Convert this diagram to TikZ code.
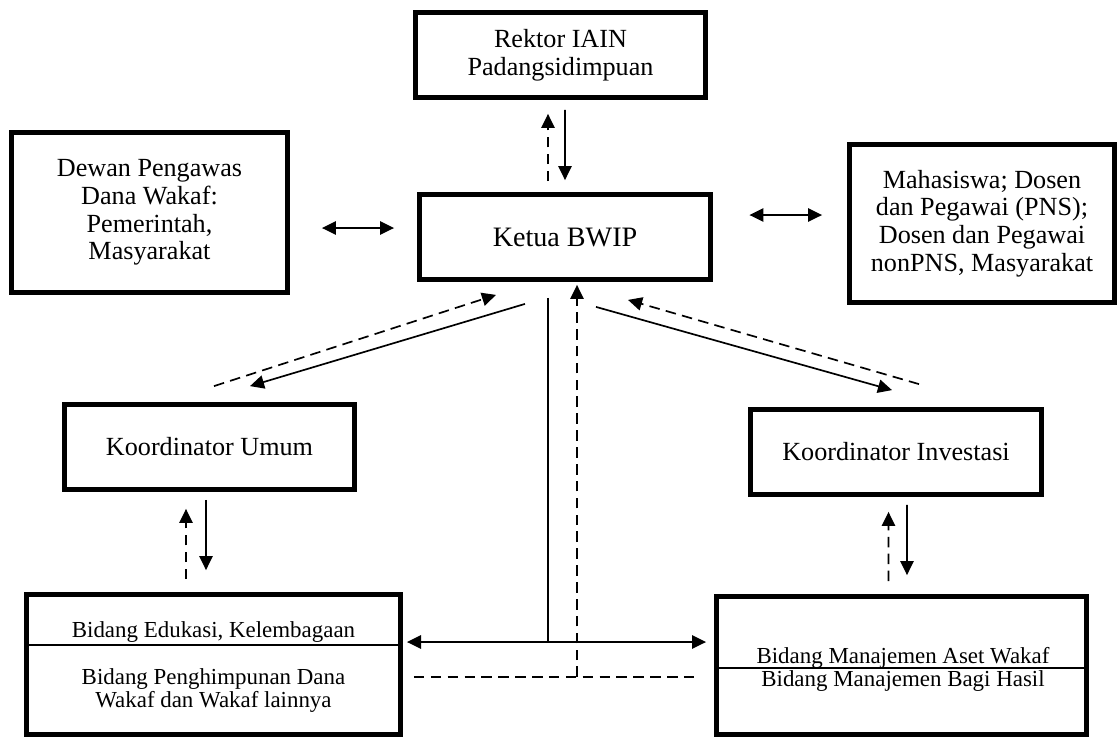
\documentclass[tikz,border=0pt]{standalone}
\usepackage{fontspec}
\setmainfont{Liberation Serif}
\usetikzlibrary{
  calc,
  arrows.meta}
\tikzset{
  %% unitbox : a unit of the organisation
  unitbox/.style={
    rectangle,
    draw=black,
    line width=3.4pt,
    minimum width=7.25cm,
    minimum height=2.125cm,
    align=center,
    font=\fontsize{18.6}{19.6}\selectfont
  },
  %% bidang : the lower boxes (text is put in separately)
  bidang/.style={
    unitbox,
    minimum width=9.35cm,
    minimum height=3.5cm
  },
  %% bidtext : text inside a bidang box
  bidtext/.style={
    align=center,
    inner sep=0pt,
    font=\fontsize{16.3}{17}\selectfont
  },
  %% divider : line between the parts of a bidang box
  divider/.style={line width=1pt},
  %% link : plain connection, no tip
  link/.style={line width=1.2pt},
  %% dashlink : dashed connection, no tip
  dashlink/.style={link, dash pattern=on 7.5pt off 4.5pt},
  %% cmd : instruction (solid arrow)
  cmd/.style={
    link,
    -{Triangle[length=10pt,width=9.5pt]}
  },
  %% report : report back (dashed arrow)
  report/.style={
    dashlink,
    -{Triangle[length=10pt,width=9.5pt]}
  },
  %% twoway : coordination in both directions
  twoway/.style={
    link,
    {Triangle[length=10pt,width=9.5pt]}-{Triangle[length=10pt,width=9.5pt]}
  }
}

\begin{document}
\begin{tikzpicture}
  [x=0.025cm,
  y=-0.025cm]

  %% Page frame (pixels of the original figure)
  \useasboundingbox (0,0) rectangle (1119,739);

  %%% Boxes
  \node (rektor) [unitbox] at (560.5,55) {%
    Rektor IAIN\\ Padangsidimpuan};

  \node (ketua) [unitbox, minimum width=7.275cm,
    font=\fontsize{20}{22}\selectfont] at (565,237) {%
    Ketua BWIP};

  \node (dewan) [unitbox, minimum width=6.9cm,
    minimum height=4cm] at (149.5,212.5) {%
    Dewan Pengawas\\ Dana Wakaf:\\ Pemerintah,\\ Masyarakat};

  \node (mhs) [unitbox, minimum width=6.625cm,
    minimum height=3.95cm] at (982,223.5) {%
    Mahasiswa; Dosen\\ dan Pegawai (PNS);\\
    Dosen dan Pegawai\\ nonPNS, Masyarakat};

  \node (kumum) [unitbox] at (209.5,447) {%
    Koordinator Umum};

  \node (kinv) [unitbox, minimum width=7.275cm] at (896,452) {%
    Koordinator Investasi};

  \node (bleft) [bidang] at (213.5,664.5) {};
  \node (edukasi) [bidtext, anchor=base] at
  ($(bleft.center)+(0,-27.5)$) {Bidang Edukasi, Kelembagaan};
  \node (himpun) [bidtext] at ($(bleft.center)+(0,26)$) {%
    Bidang Penghimpunan Dana\\ Wakaf dan Wakaf lainnya};
  \draw [divider] ($(bleft.west)+(0,-19.5)$) -- ($(bleft.east)+(0,-19.5)$);

  \node (bright) [bidang, minimum width=9.25cm,
    minimum height=3.45cm] at (901.5,665.5) {};
  \node (aset) [bidtext, anchor=base] at
  ($(bright.center)+(1.5,-2.5)$) {Bidang Manajemen Aset Wakaf};
  \node (bagi) [bidtext, anchor=base] at
  ($(bright.center)+(1.5,20.5)$) {Bidang Manajemen Bagi Hasil};
  \draw [divider] ($(bright.west)+(0,2.5)$) -- ($(bright.east)+(0,2.5)$);

  %%% Connections
  %% Rektor and Ketua
  \draw [report] ($(ketua.north)+(-17,-11)$) -- ($(rektor.south)+(-12.5,14)$);
  \draw [cmd] ($(rektor.south)+(4.5,10)$) -- ($(ketua.north)+(0,-12)$);

  %% Partners left and right
  \draw [twoway] ($(dewan.east)+(32,15.5)$) -- ($(ketua.west)+(-23,-9)$);
  \draw [twoway] ($(ketua.east)+(36.5,-22)$) -- ($(mhs.west)+(-25,-8.5)$);

  %% Ketua and the koordinators
  \draw [cmd] ($(ketua.south)+(-40,22)$) -- ($(kumum.north)+(40.5,-16)$);
  \draw [report] ($(kumum.north)+(4.5,-16)$) -- ($(ketua.south)+(-69,13)$);
  \draw [cmd] ($(ketua.south)+(31,25)$) -- ($(kinv.north)+(-4,-17)$);
  \draw [report] ($(kinv.north)+(23,-23)$) -- ($(ketua.south)+(63,18)$);

  %% Koordinators and bidang
  \draw [report] ($(bleft.north)+(-27.5,-13)$) -- ($(kumum.south)+(-23.5,17)$);
  \draw [cmd] ($(kumum.south)+(-3.5,8)$) -- ($(bleft.north)+(-7.5,-22)$);
  \draw [report] ($(bright.north)+(-13,-13)$) -- ($(kinv.south)+(-7.5,15)$);
  \draw [cmd] ($(kinv.south)+(11,8)$) -- ($(bright.north)+(5.5,-19)$);

  %% Ketua straight down to both bidang
  \coordinate (hl) at ($(bleft.east)+(4,-22.5)$);
  \coordinate (hr) at ($(bright.west)+(-8,-23.5)$);
  \draw [twoway] (hl) -- (hr);
  \coordinate (vtop) at ($(ketua.south)+(-17,16)$);
  \draw [link] (vtop) -- (vtop |- hl);

  \coordinate (dl) at ($(bleft.east)+(11,12.5)$);
  \coordinate (dr) at ($(bright.west)+(-17,11.5)$);
  \draw [dashlink] (dl) -- (dr);
  \coordinate (vdash) at ($(ketua.south)+(12,3)$);
  \draw [report] (vdash |- dl) -- (vdash);

\end{tikzpicture}
\end{document}
